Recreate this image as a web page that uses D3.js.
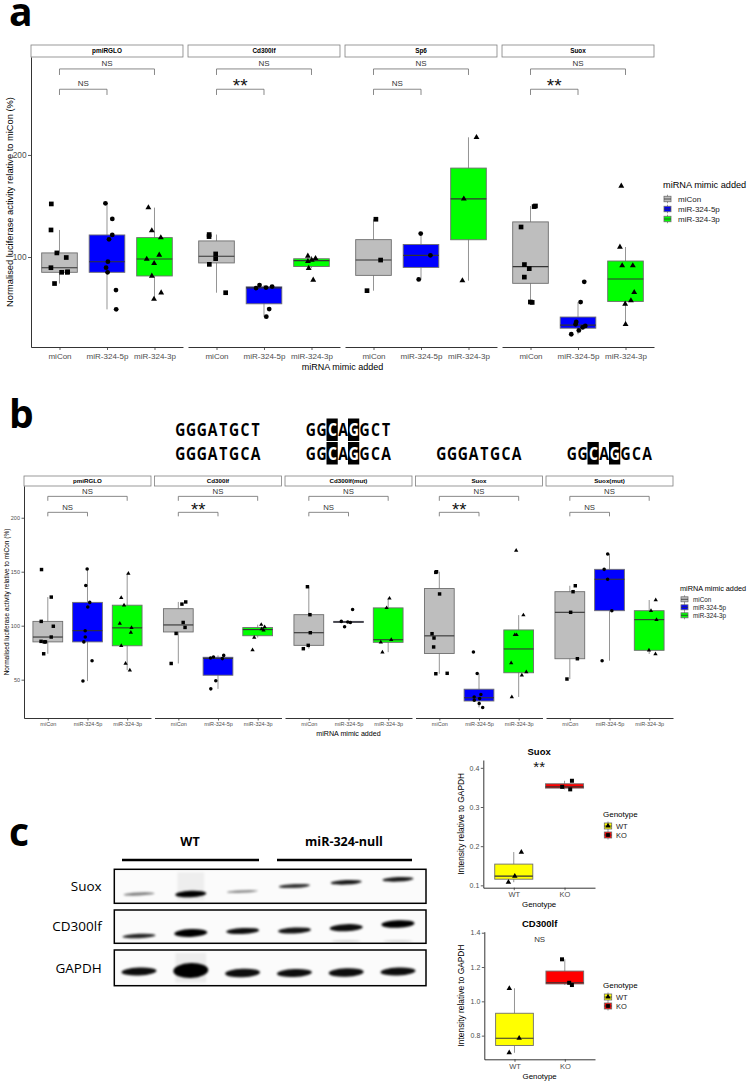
<!DOCTYPE html>
<html>
<head>
<meta charset="utf-8">
<script src="https://cdn.jsdelivr.net/npm/d3@7"></script>
<style>
  body { margin: 0; background: #fff; }
  svg { display: block; }
</style>
</head>
<body>
<script>
// mimic groups
var groups = ["miCon", "miR-324-5p", "miR-324-3p"];
var groupFill = ["#BEBEBE", "#0000FF", "#00FF00"];
var groupShape = [d3.symbolSquare, d3.symbolCircle, d3.symbolTriangle];

// luciferase activity (% of miCon), one array per mimic
var pmiRGLO = [
  [74, 85, 85, 85.5, 89.5, 99.5, 104, 126.5, 152],
  [48.7, 67.6, 85, 89.5, 95.4, 117.3, 121.6, 137.3, 152.6],
  [58.8, 65, 81.4, 93.8, 98, 102, 119, 125.8, 148.4]
];
var cd300lf = [
  [65, 92.8, 98.4, 103, 120, 122],
  [41.5, 49, 69.5, 70, 71, 72.5],
  [77.5, 89, 95.8, 97, 98.7, 101]
];
var sp6 = [
  [67, 97, 137],
  [78, 101.6, 123],
  [76.8, 157, 217.3]
];
var suox = [
  [55.5, 55.9, 80.3, 88.6, 92.6, 129.4, 149.4, 150],
  [24.3, 28, 31, 32.5, 34, 36.3, 55.8, 75.7],
  [34, 54, 57.2, 65.4, 91.5, 91.5, 109.8, 169.6]
];
var cd300lfMut = [
  [78.7, 81.8, 93.5, 110.2, 136.1],
  [99, 103, 103.5, 104, 115],
  [75.5, 84.6, 87, 116.5, 125.3]
];
var suoxMut = [
  [50.6, 69.4, 112.4, 131.5, 137],
  [67.6, 113.9, 143, 152.2, 166.4],
  [73.8, 77.2, 105.6, 113.9, 123.8]
];

var aPanels = ["pmiRGLO", "Cd300lf", "Sp6", "Suox"];
var aData = [pmiRGLO, cd300lf, sp6, suox];
var aSigNear = ["NS", "**", "NS", "**"];
var aSigFar = ["NS", "NS", "NS", "NS"];

var bPanels = ["pmiRGLO", "Cd300lf", "Cd300lf(mut)", "Suox", "Suox(mut)"];
var bData = [pmiRGLO, cd300lf, cd300lfMut, suox, suoxMut];
var bSigNear = ["NS", "**", "NS", "**", "NS"];
var bSigFar = ["NS", "NS", "NS", "NS", "NS"];

// seed sequences above panel b
var seedTop = ["", "GGGATGCT", "GGCAGGCT", "", ""];
var seedBottom = ["", "GGGATGCA", "GGCAGGCA", "GGGATGCA", "GGCAGGCA"];
var seedMutated = [false, false, true, false, true];
var mutatedLetters = [2, 4];

// western blot
var blotProteins = ["Suox", "CD300lf", "GAPDH"];
var suoxBand = [0.5, 1, 0.45, 0.8, 0.9, 0.9];
var cd300lfBand = [0.85, 1, 0.95, 0.92, 0.95, 1];
var gapdhBand = [0.95, 1, 0.95, 0.95, 0.95, 0.95];

// densitometry
var genotypes = ["WT", "KO"];
var genoFill = ["#FFFF00", "#FF0000"];
var genoShape = [d3.symbolTriangle, d3.symbolSquare];
var suoxWT = [0.108, 0.1235, 0.185];
var suoxKO = [0.345, 0.3515, 0.367];
var cdWT = [0.70, 0.785, 1.076];
var cdKO = [1.095, 1.108, 1.245];

var svg = d3.select("body").append("svg")
  .attr("width", 749).attr("height", 1082)
  .style("font-family", "'Liberation Sans', Arial, sans-serif");
svg.append("rect").attr("width", 749).attr("height", 1082).attr("fill", "#fff");

function boxStats(v) {
  var q1 = d3.quantile(v, 0.25), med = d3.quantile(v, 0.5), q3 = d3.quantile(v, 0.75);
  var iqr = q3 - q1;
  return {
    q1: q1, med: med, q3: q3,
    lo: d3.min(v.filter(function(d) { return d >= q1 - 1.5 * iqr; })),
    hi: d3.max(v.filter(function(d) { return d <= q3 + 1.5 * iqr; }))
  };
}

function styleAxis(sel, fs) {
  sel.attr("font-family", null).attr("font-size", null);
  sel.select(".domain").attr("stroke", "#000").attr("stroke-width", 0.8);
  sel.selectAll(".tick line").attr("stroke", "#333").attr("stroke-width", 0.8);
  sel.selectAll(".tick text").attr("font-size", fs).attr("fill", "#4d4d4d");
}

function drawBox(g, vals, cx, bw, y, fill, shape, ptSize, jitter, step) {
  var s = boxStats(vals);
  g.append("line").attr("x1", cx).attr("x2", cx).attr("y1", y(s.hi)).attr("y2", y(s.lo))
    .attr("stroke", "#7a7a7a").attr("stroke-width", 0.8);
  g.append("rect").attr("x", cx - bw / 2).attr("y", y(s.q3))
    .attr("width", bw).attr("height", Math.max(0.1, y(s.q1) - y(s.q3)))
    .attr("fill", fill).attr("stroke", "#6e6e6e").attr("stroke-width", 0.9);
  g.append("line").attr("x1", cx - bw / 2).attr("x2", cx + bw / 2)
    .attr("y1", y(s.med)).attr("y2", y(s.med))
    .attr("stroke", "#333").attr("stroke-width", 1.1);
  g.selectAll(null).data(vals).enter().append("path")
    .attr("d", d3.symbol().type(shape).size(ptSize))
    .attr("fill", "#000")
    .attr("transform", function(d) {
      return "translate(" + (cx + jitter() * step) + "," + y(d) + ")";
    });
}

function bracket(g, xa, xb, yBar, yTip, label, o) {
  g.append("path")
    .attr("d", "M" + xa + "," + yTip + "V" + yBar + "H" + xb + "V" + yTip)
    .attr("fill", "none").attr("stroke", "#6b6b6b").attr("stroke-width", 0.8);
  var t = g.append("text").attr("x", (xa + xb) / 2).attr("text-anchor", "middle").text(label);
  if (label === "**") {
    t.attr("y", yBar - o.starGap + 0.56 * o.starFont).attr("font-size", o.starFont).attr("fill", "#111");
  } else {
    t.attr("y", yBar - o.nsGap + 0.36 * o.nsFont).attr("font-size", o.nsFont).attr("fill", "#333");
  }
}

function facetChart(o) {
  var g = svg.append("g");
  var px = d3.scaleBand().domain(o.panels).range(o.xRange).paddingInner(o.gap);
  var y = d3.scaleLinear().domain(o.yDomain).range([o.yBottom, o.yTop]);
  var jitter = d3.randomUniform.source(d3.randomLcg(o.seed))(-0.2, 0.2);

  o.panels.forEach(function(name, pi) {
    var x0 = px(name), w = px.bandwidth();
    var x = d3.scalePoint().domain(groups).range([x0, x0 + w]).padding(0.6);
    var step = x.step();

    g.append("rect").attr("x", x0).attr("y", o.stripTop)
      .attr("width", w).attr("height", o.yTop - o.stripTop)
      .attr("fill", "#fff").attr("stroke", "#808080").attr("stroke-width", 0.8);
    g.append("text").attr("x", x0 + w / 2).attr("y", (o.stripTop + o.yTop) / 2)
      .attr("dy", "0.36em").attr("text-anchor", "middle")
      .attr("font-size", o.stripFont).attr("font-weight", "bold").text(name);

    var ax = g.append("g").attr("transform", "translate(0," + o.yBottom + ")")
      .call(d3.axisBottom(x).tickSize(o.tick).tickPadding(o.xPad).tickSizeOuter(0));
    styleAxis(ax, o.xFont);

    o.data[pi].forEach(function(vals, gi) {
      drawBox(g, vals, x(groups[gi]), step * 0.75, y, groupFill[gi], groupShape[gi],
        o.pt[gi], jitter, step);
    });

    bracket(g, x(groups[0]), x(groups[2]), y(o.far[0]), y(o.far[1]), o.sigFar[pi], o);
    bracket(g, x(groups[0]), x(groups[1]), y(o.near[0]), y(o.near[1]), o.sigNear[pi], o);
  });

  var ay = g.append("g").attr("transform", "translate(" + px(o.panels[0]) + ",0)")
    .call(d3.axisLeft(y).tickValues(o.yTicks).tickSize(o.tick).tickPadding(o.yPad).tickSizeOuter(0));
  styleAxis(ay, o.yFont);

  g.append("text")
    .attr("transform", "translate(" + o.yTitleX + "," + (o.yTop + o.yBottom) / 2 + ") rotate(-90)")
    .attr("text-anchor", "middle").attr("font-size", o.yTitleFont)
    .text("Normalised luciferase activity relative to miCon (%)");
  g.append("text").attr("x", (o.xRange[0] + o.xRange[1]) / 2).attr("y", o.xTitleY)
    .attr("text-anchor", "middle").attr("font-size", o.xTitleFont).text("miRNA mimic added");

  // legend
  var L = o.legend;
  g.append("text").attr("x", L.x).attr("y", L.titleY).attr("dy", "0.35em")
    .attr("font-size", L.titleFont).text("miRNA mimic added");
  groups.forEach(function(name, i) {
    var cy = L.y0 + i * L.dy, kx = L.x + 1;
    g.append("line").attr("x1", kx + L.kw / 2).attr("x2", kx + L.kw / 2)
      .attr("y1", cy - L.kh / 2 - 1.5).attr("y2", cy + L.kh / 2 + 1.5)
      .attr("stroke", "#7a7a7a").attr("stroke-width", 0.8);
    g.append("rect").attr("x", kx).attr("y", cy - L.kh / 2).attr("width", L.kw).attr("height", L.kh)
      .attr("fill", groupFill[i]).attr("stroke", "#6e6e6e").attr("stroke-width", 0.8);
    g.append("line").attr("x1", kx).attr("x2", kx + L.kw).attr("y1", cy).attr("y2", cy)
      .attr("stroke", "#333").attr("stroke-width", 0.8);
    g.append("text").attr("x", L.tx).attr("y", cy).attr("dy", "0.35em")
      .attr("font-size", L.font).attr("fill", "#1a1a1a").text(name);
  });
  return px;
}

// panel letters
[["a", 26], ["b", 428], ["c", 846]].forEach(function(p) {
  svg.append("text").attr("x", 9).attr("y", p[1])
    .attr("font-family", "'Open Sans', sans-serif").attr("font-weight", "bold")
    .attr("font-size", 39).text(p[0]);
});

// ---- panel a
facetChart({
  panels: aPanels, data: aData, sigNear: aSigNear, sigFar: aSigFar,
  xRange: [31, 654], gap: 0.032, stripTop: 45, yTop: 57, yBottom: 347,
  yDomain: [11.8, 296], yTicks: [100, 200],
  far: [284.3, 278.4], near: [264.4, 258.8],
  tick: 3, xPad: 3, yPad: 1.5, xFont: 8, yFont: 8.3, stripFont: 6.4,
  nsFont: 8, nsGap: 5.8, starFont: 19, starGap: 8.3,
  pt: [22, 18, 15], seed: 7,
  yTitleX: 13, yTitleFont: 9.3, xTitleY: 370, xTitleFont: 9,
  legend: { x: 663, titleY: 185, titleFont: 9.2, y0: 199, dy: 10, kw: 7, kh: 5.5, tx: 678, font: 8 }
});

// ---- panel b
var bx = facetChart({
  panels: bPanels, data: bData, sigNear: bSigNear, sigFar: bSigFar,
  xRange: [24, 673], gap: 0.027, stripTop: 476, yTop: 486, yBottom: 718,
  yDomain: [14.5, 229.4], yTicks: [50, 100, 150, 200],
  far: [219.8, 215.7], near: [205, 201.3],
  tick: 2.5, xPad: 2, yPad: 1.5, xFont: 5.5, yFont: 5.5, stripFont: 6.2,
  nsFont: 7.8, nsGap: 4.8, starFont: 18.5, starGap: 6.6,
  pt: [12, 10, 8], seed: 11,
  yTitleX: 9, yTitleFont: 6.5, xTitleY: 736, xTitleFont: 7.1,
  legend: { x: 680, titleY: 588.7, titleFont: 7.3, y0: 599.3, dy: 8, kw: 7, kh: 5, tx: 693, font: 6.3 }
});

// seed sequences
(function() {
  var g = svg.append("g").attr("font-family", "'Open Sans', sans-serif").attr("font-weight", "bold");
  var cell = 10.75;
  bPanels.forEach(function(name, pi) {
    var cx = bx(name) + bx.bandwidth() / 2;
    [[seedTop[pi], 436], [seedBottom[pi], 459.5]].forEach(function(line) {
      var seq = line[0], base = line[1];
      if (!seq) return;
      var left = cx - cell * seq.length / 2;
      seq.split("").forEach(function(ch, i) {
        var hl = seedMutated[pi] && mutatedLetters.indexOf(i) >= 0;
        if (hl) {
          g.append("rect").attr("x", left + i * cell - 0.5).attr("y", base - 17.5)
            .attr("width", cell + 0.5).attr("height", 22.5).attr("fill", "#000");
        }
        g.append("text")
          .attr("transform", "translate(" + (left + (i + 0.5) * cell) + "," + base + ") scale(0.8,1)")
          .attr("text-anchor", "middle").attr("font-size", 17.5)
          .attr("fill", hl ? "#fff" : "#000").text(ch);
      });
    });
  });
})();

// ---- panel c: western blot
(function() {
  var g = svg.append("g");
  var defs = svg.append("defs");
  defs.append("filter").attr("id", "bandBlur")
    .attr("x", "-50%").attr("y", "-200%").attr("width", "200%").attr("height", "500%")
    .append("feGaussianBlur").attr("stdDeviation", 1.2);
  var lane = d3.scalePoint().domain(d3.range(6)).range([139, 398]);
  var rows = [
    { vals: suoxBand, top: 869.3, bottom: 903.3, y: [894, 894, 891.5, 886, 882.3, 879.3], th: [3, 6.5, 2.5, 4, 4.5, 4.5], w: 31, smear: 0.05 },
    { vals: cd300lfBand, top: 910, bottom: 943.3, y: [936, 933, 931, 930.5, 927.7, 924], th: [4.5, 8, 6, 6, 7, 7.5], w: 33, smear: 0 },
    { vals: gapdhBand, top: 950, bottom: 985.7, y: [971.5, 970.5, 973, 973, 972.5, 971.5], th: [8, 15, 8.5, 8, 8.5, 8], w: 35, smear: 0.06 }
  ];
  var gf = g.append("g").attr("font-family", "'Open Sans', sans-serif");
  gf.append("text").attr("x", 190).attr("y", 846).attr("text-anchor", "middle")
    .attr("font-weight", "bold").attr("font-size", 12.5).text("WT");
  gf.append("text").attr("x", 344).attr("y", 846).attr("text-anchor", "middle")
    .attr("font-weight", "bold").attr("font-size", 12.5).text("miR-324-null");
  g.append("line").attr("x1", 122).attr("x2", 259).attr("y1", 860).attr("y2", 860)
    .attr("stroke", "#000").attr("stroke-width", 2.5);
  g.append("line").attr("x1", 277).attr("x2", 412).attr("y1", 860).attr("y2", 860)
    .attr("stroke", "#000").attr("stroke-width", 2.5);

  rows.forEach(function(r, ri) {
    g.append("rect").attr("x", 114.3).attr("y", r.top).attr("width", 311.7).attr("height", r.bottom - r.top)
      .attr("fill", "#fbfbfb");
    var bands = g.append("g").attr("filter", "url(#bandBlur)");
    // faint smear above the heavy lane 2
    if (r.smear) {
      bands.append("rect").attr("x", lane(1) - r.w / 2 + 2).attr("y", r.top + 3)
        .attr("width", r.w - 4).attr("height", r.bottom - r.top - 6)
        .attr("fill", "#000").attr("opacity", r.smear);
    }
    r.vals.forEach(function(v, li) {
      bands.append("ellipse")
        .attr("cx", lane(li)).attr("cy", r.y[li]).attr("rx", r.w / 2).attr("ry", r.th[li] / 2)
        .attr("transform", "rotate(-2.5," + lane(li) + "," + r.y[li] + ")")
        .attr("fill", "#000").attr("opacity", v);
    });
    if (ri === 1) {
      [4, 5].forEach(function(li) {
        bands.append("ellipse").attr("cx", lane(li)).attr("cy", 941).attr("rx", r.w / 2 - 2).attr("ry", 1)
          .attr("fill", "#000").attr("opacity", 0.15);
      });
    }
    g.append("rect").attr("x", 114.3).attr("y", r.top).attr("width", 311.7).attr("height", r.bottom - r.top)
      .attr("fill", "none").attr("stroke", "#000").attr("stroke-width", 1.5);
    gf.append("text").attr("x", 101.7).attr("y", (r.top + r.bottom) / 2).attr("dy", "0.35em")
      .attr("text-anchor", "end").attr("font-size", 13.5).text(blotProteins[ri]);
  });
})();

// ---- panel c: densitometry
function genoChart(o) {
  var g = svg.append("g");
  var x = d3.scalePoint().domain(genotypes).range([o.x0, o.x1]).padding(0.6);
  var step = x.step();
  var y = d3.scaleLinear().domain(o.yDomain).range([o.yBottom, o.yTop]);
  var jitter = d3.randomUniform.source(d3.randomLcg(o.seed))(-0.2, 0.2);

  var ax = g.append("g").attr("transform", "translate(0," + o.yBottom + ")")
    .call(d3.axisBottom(x).tickSize(2.5).tickPadding(1.5).tickSizeOuter(0));
  styleAxis(ax, 7.5);
  var ay = g.append("g").attr("transform", "translate(" + o.x0 + ",0)")
    .call(d3.axisLeft(y).tickValues(o.ticks).tickFormat(d3.format(".1f"))
      .tickSize(2.5).tickPadding(1.5).tickSizeOuter(0));
  styleAxis(ay, 7);

  [o.wt, o.ko].forEach(function(vals, gi) {
    drawBox(g, vals, x(genotypes[gi]), step * 0.75, y, genoFill[gi], genoShape[gi],
      gi === 0 ? 13 : 16, jitter, step);
  });

  var cx = (o.x0 + o.x1) / 2;
  g.append("text").attr("x", cx).attr("y", o.titleY).attr("dy", "0.35em").attr("text-anchor", "middle")
    .attr("font-weight", "bold").attr("font-size", 9.5).text(o.title);
  if (o.sig === "**") {
    g.append("text").attr("x", cx).attr("y", o.sigY + 0.56 * 15).attr("text-anchor", "middle")
      .attr("font-size", 15).attr("fill", "#111").text(o.sig);
  } else {
    g.append("text").attr("x", cx).attr("y", o.sigY).attr("dy", "0.36em").attr("text-anchor", "middle")
      .attr("font-size", 7.9).attr("fill", "#333").text(o.sig);
  }
  g.append("text")
    .attr("transform", "translate(464," + (o.yTop + o.yBottom) / 2 + ") rotate(-90)")
    .attr("text-anchor", "middle").attr("font-size", 8.4).text("Intensity relative to GAPDH");
  g.append("text").attr("x", cx).attr("y", o.yBottom + 19.5).attr("text-anchor", "middle")
    .attr("font-size", 7.9).text("Genotype");

  g.append("text").attr("x", 603).attr("y", o.legY).attr("dy", "0.35em")
    .attr("font-size", 8).text("Genotype");
  genotypes.forEach(function(name, i) {
    var cy = o.legY + 11.7 + i * 9, kx = 604.3;
    g.append("line").attr("x1", kx + 3.7).attr("x2", kx + 3.7).attr("y1", cy - 4.5).attr("y2", cy + 4.5)
      .attr("stroke", "#7a7a7a").attr("stroke-width", 0.8);
    g.append("rect").attr("x", kx).attr("y", cy - 3).attr("width", 7.4).attr("height", 6)
      .attr("fill", genoFill[i]).attr("stroke", "#6e6e6e").attr("stroke-width", 0.8);
    g.append("line").attr("x1", kx).attr("x2", kx + 7.4).attr("y1", cy).attr("y2", cy)
      .attr("stroke", "#333").attr("stroke-width", 0.8);
    g.append("path").attr("d", d3.symbol().type(genoShape[i]).size(i === 0 ? 13 : 14))
      .attr("transform", "translate(" + (kx + 3.7) + "," + cy + ")").attr("fill", "#000");
    g.append("text").attr("x", 616).attr("y", cy).attr("dy", "0.35em")
      .attr("font-size", 7.5).attr("fill", "#1a1a1a").text(name);
  });
}

genoChart({
  title: "Suox", sig: "**", wt: suoxWT, ko: suoxKO,
  x0: 483.3, x1: 595, yTop: 760, yBottom: 887.7, yDomain: [0.094, 0.42],
  ticks: [0.1, 0.2, 0.3, 0.4], titleY: 752, sigY: 763.3, legY: 814.3, seed: 3
});
genoChart({
  title: "CD300lf", sig: "NS", wt: cdWT, ko: cdKO,
  x0: 484.3, x1: 595, yTop: 931.7, yBottom: 1059.3, yDomain: [0.662, 1.406],
  ticks: [0.8, 1.0, 1.2, 1.4], titleY: 924, sigY: 938.7, legY: 985.3, seed: 5
});
</script>
</body>
</html>
